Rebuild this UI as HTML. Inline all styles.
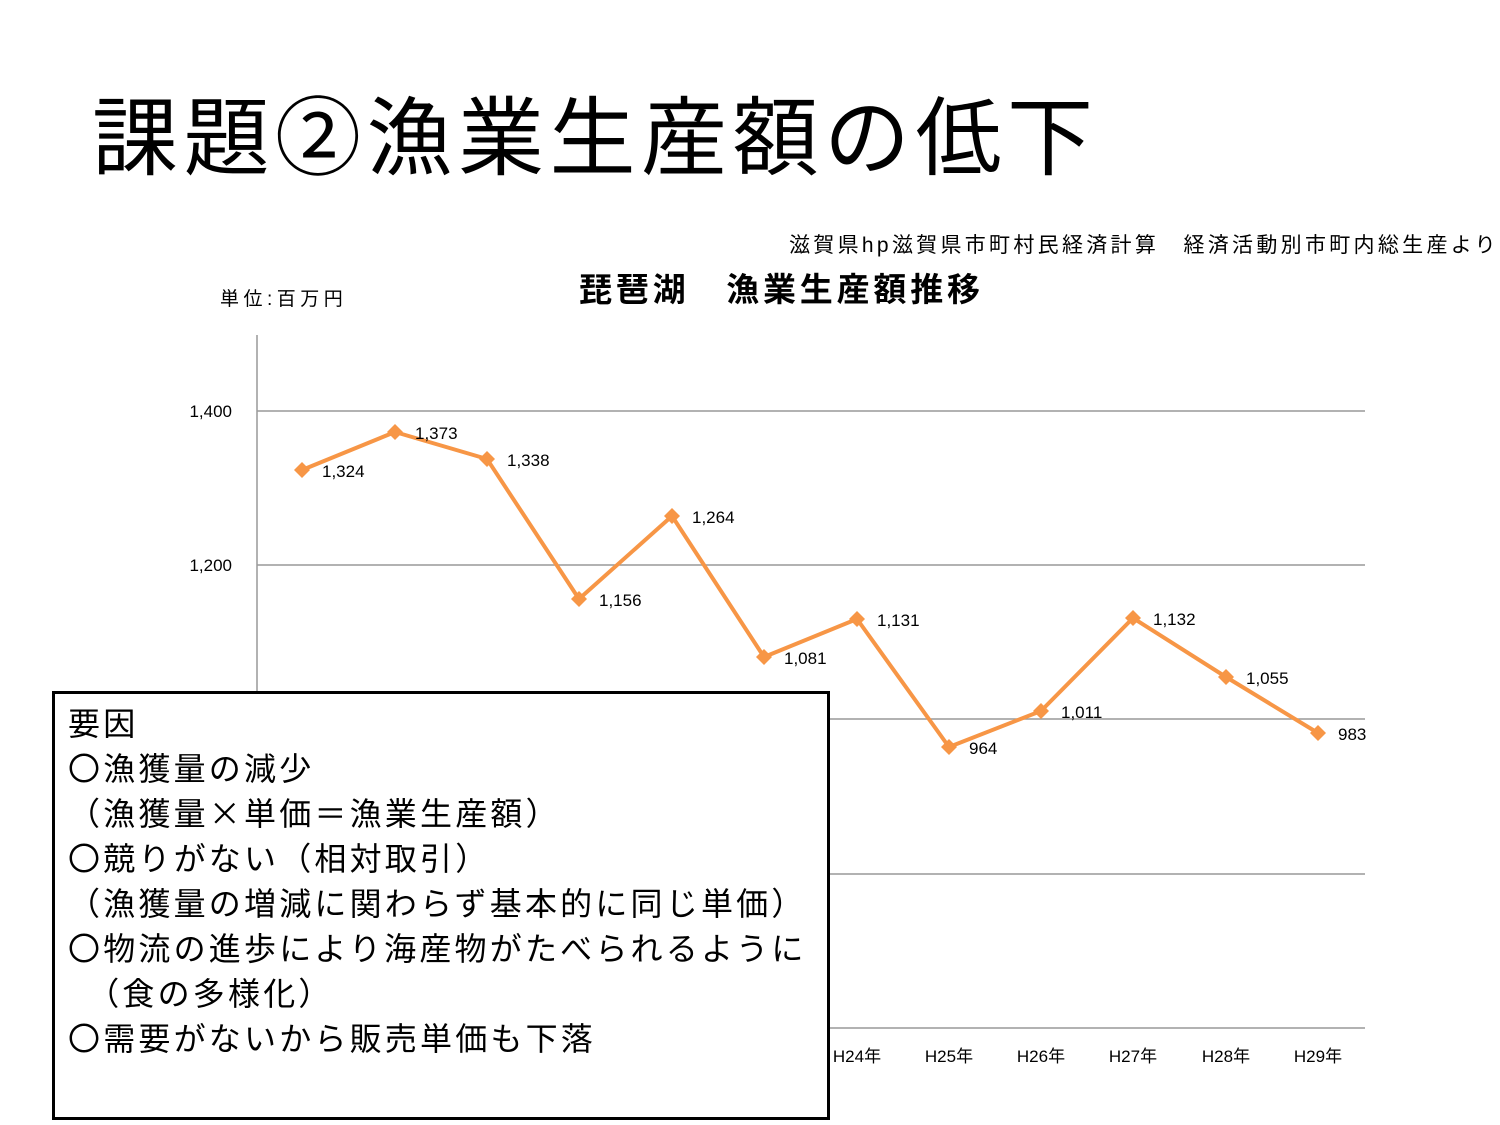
<!DOCTYPE html>
<html><head><meta charset="utf-8"><style>
body{margin:0;width:1500px;height:1125px;background:#fff;overflow:hidden;position:relative;font-family:"Liberation Sans","Noto Sans CJK JP",sans-serif}
.t{position:absolute;white-space:nowrap}
</style></head><body>
<div class="t" style="left:92px;top:84px;font-size:86px;line-height:110px;color:#000;letter-spacing:5.5px">課題②漁業生産額の低下</div>
<div class="t" style="left:789px;top:229px;font-size:21px;letter-spacing:3.3px">滋賀県hp滋賀県市町村民経済計算　経済活動別市町内総生産より</div>
<div class="t" style="left:579px;top:263px;font-size:33px;font-weight:bold;letter-spacing:3.8px">琵琶湖　漁業生産額推移</div>
<div class="t" style="left:220px;top:284px;font-size:19px;letter-spacing:4.5px">単位:百万円</div>
<svg style="position:absolute;left:0;top:0" width="1500" height="1125">
<g stroke="#999" stroke-width="1.5">
<line x1="257" y1="411" x2="1365" y2="411"/><line x1="257" y1="565" x2="1365" y2="565"/>
<line x1="257" y1="719" x2="1365" y2="719"/><line x1="257" y1="874" x2="1365" y2="874"/>
<line x1="257" y1="1028" x2="1365" y2="1028"/><line x1="257" y1="335" x2="257" y2="1028"/>
</g>
<g font-family="Liberation Sans,sans-serif" font-size="17" fill="#000">
<text x="232" y="417" text-anchor="end">1,400</text><text x="232" y="571" text-anchor="end">1,200</text>
<text x="857" y="1062" text-anchor="middle">H24年</text><text x="949" y="1062" text-anchor="middle">H25年</text>
<text x="1041" y="1062" text-anchor="middle">H26年</text><text x="1133" y="1062" text-anchor="middle">H27年</text>
<text x="1226" y="1062" text-anchor="middle">H28年</text><text x="1318" y="1062" text-anchor="middle">H29年</text>
</g>
<polyline fill="none" stroke="#F79646" stroke-width="4" stroke-linejoin="round" points="302,470 395,432 487,459 579,599 672,516 764,657 857,619 949,747 1041,711 1133,618 1226,677 1318,733"/>
<g fill="#F79646">
<path d="M302 462l8 8-8 8-8-8z"/><path d="M395 424l8 8-8 8-8-8z"/><path d="M487 451l8 8-8 8-8-8z"/><path d="M579 591l8 8-8 8-8-8z"/><path d="M672 508l8 8-8 8-8-8z"/><path d="M764 649l8 8-8 8-8-8z"/><path d="M857 611l8 8-8 8-8-8z"/><path d="M949 739l8 8-8 8-8-8z"/><path d="M1041 703l8 8-8 8-8-8z"/><path d="M1133 610l8 8-8 8-8-8z"/><path d="M1226 669l8 8-8 8-8-8z"/><path d="M1318 725l8 8-8 8-8-8z"/>
</g>
<g font-family="Liberation Sans,sans-serif" font-size="17" fill="#000">
<text x="322" y="477">1,324</text><text x="415" y="439">1,373</text><text x="507" y="466">1,338</text><text x="599" y="606">1,156</text><text x="692" y="523">1,264</text><text x="784" y="664">1,081</text><text x="877" y="626">1,131</text><text x="969" y="754">964</text><text x="1061" y="718">1,011</text><text x="1153" y="625">1,132</text><text x="1246" y="684">1,055</text><text x="1338" y="740">983</text>
</g>
</svg>
<div style="position:absolute;left:52px;top:691px;width:772px;height:423px;border:3px solid #000;background:#fff"></div>
<div class="t" style="left:68px;top:700px;font-size:32px;line-height:45px;letter-spacing:3.2px;font-family:'Noto Sans CJK JP',sans-serif">要因<br>〇漁獲量の減少<br>（漁獲量×単価＝漁業生産額）<br>〇競りがない（相対取引）<br>（漁獲量の増減に関わらず基本的に同じ単価）<br>〇物流の進歩により海産物がたべられるように<br>　（食の多様化）<br>〇需要がないから販売単価も下落</div>
</body></html>
